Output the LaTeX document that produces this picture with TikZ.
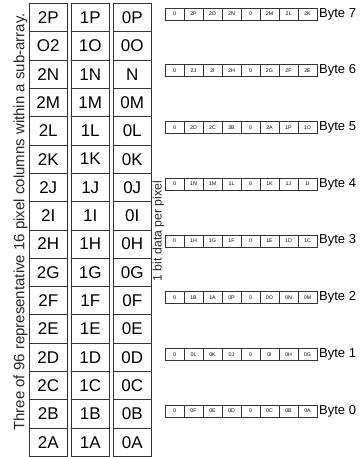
\documentclass[tikz,border=0pt]{standalone}
\usepackage{fontspec}
\setmainfont{Liberation Sans}
\begin{document}
\begin{tikzpicture}[x=1pt,y=-1pt,
  cell/.style={draw=black!80, line width=0.7pt, minimum width=38.5pt, minimum height=28.3pt,
    inner sep=0pt, font=\fontsize{17}{17}\selectfont},
  bitbox/.style={draw=black!80, line width=0.5pt, minimum width=19pt, minimum height=12pt,
    inner sep=0pt, font=\fontsize{5.3}{5.3}\selectfont},
  bytelabel/.style={anchor=west, inner sep=0pt, font=\fontsize{13}{13}\selectfont},
  caption/.style={rotate=90, inner sep=0pt, text=black!85}]
\useasboundingbox (0,0) rectangle (359,457);
% pixel columns
\foreach \a/\b/\c [count=\r from 0] in {2P/1P/0P, O2/1O/0O, 2N/1N/N, 2M/1M/0M, 2L/1L/0L, 2K/1K/0K,
  2J/1J/0J, 2I/1I/0I, 2H/1H/0H, 2G/1G/0G, 2F/1F/0F, 2E/1E/0E, 2D/1D/0D, 2C/1C/0C, 2B/1B/0B, 2A/1A/0A} {
  \node[cell] (ca\r) at (48.25, 17.65+28.3*\r) {\a};
  \node[cell] (cb\r) at (90.25, 17.65+28.3*\r) {\b};
  \node[cell] (cc\r) at (132.25, 17.65+28.3*\r) {\c};
}
% bytes
\foreach \row [count=\i from 0] in {
  {0,2P,2O,2N,0,2M,2L,2K},
  {0,2J,2I,2H,0,2G,2F,2E},
  {0,2D,2C,2B,0,2A,1P,1O},
  {0,1N,1M,1L,0,1K,1J,1I},
  {0,1H,1G,1F,0,1E,1D,1C},
  {0,1B,1A,0P,0,0O,0N,0M},
  {0,0L,0K,0J,0,0I,0H,0G},
  {0,0F,0E,0D,0,0C,0B,0A}} {
  \pgfmathtruncatemacro{\k}{7-\i}
  \foreach \t [count=\j from 0] in \row {
    \node[bitbox] (b\i-\j) at (174.5+19*\j, 14+56.7*\i) {\t};
  }
  \node[bytelabel] (lab\i) at (319, 14+56.7*\i) {Byte \k};
}
\node[caption, font=\fontsize{15}{15}\selectfont] (cap1) at (20.5,222)
  {Three of 96 representative 16 pixel columns within a sub-array.};
\node[caption, font=\fontsize{12.3}{12.3}\selectfont] (cap2) at (158.5,231) {1 bit data per pixel};
\end{tikzpicture}
\end{document}
